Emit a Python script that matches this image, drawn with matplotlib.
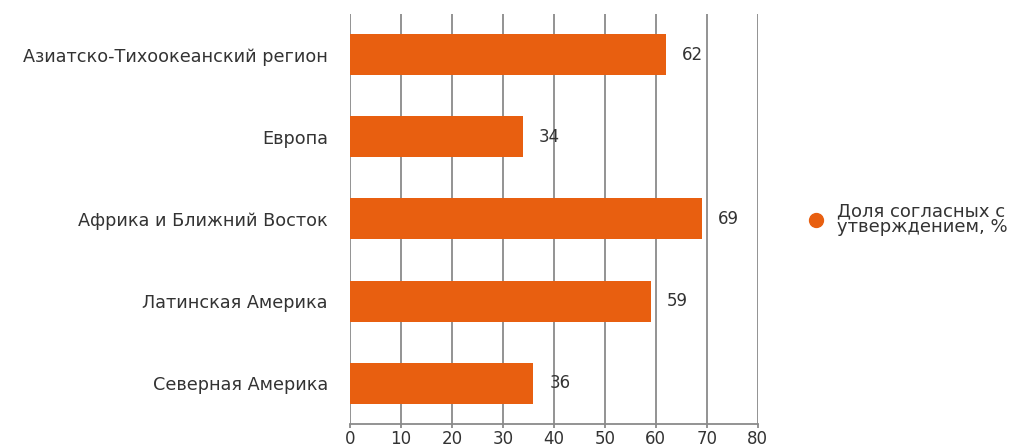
import matplotlib
matplotlib.use("Agg")
import matplotlib.pyplot as plt
from matplotlib.lines import Line2D

categories = ["Азиатско-Тихоокеанский регион", "Европа", "Африка и Ближний Восток",
              "Латинская Америка", "Северная Америка"]
values = [62, 34, 69, 59, 36]
xticks = [0, 10, 20, 30, 40, 50, 60, 70, 80]
legend_label = "Доля согласных с\nутверждением, %"

orange = "#E85F10"
grid_c = "#8a8a8a"
text_c = "#333333"

plt.rcParams['font.family'] = ['DejaVu Sans']

fig = plt.figure(figsize=(10.13, 4.48), dpi=100)
ax = fig.add_axes([350/1013, 24/448, 407.7/1013, 410/448])

ypos = list(range(len(categories)))
ax.barh(ypos, values, height=0.5, color=orange, zorder=3)
ax.set_ylim(len(categories) - 0.5, -0.5)
ax.set_xlim(0, 80)
ax.set_xticks(xticks)
ax.set_xticklabels([str(t) for t in xticks], fontsize=12, color=text_c)
ax.set_yticks(ypos)
ax.set_yticklabels(categories, fontsize=12.7, color=text_c)
ax.tick_params(axis='y', length=0, pad=16)
ax.tick_params(axis='x', length=3, width=1.3, color=grid_c, pad=1)
ax.grid(axis='x', color=grid_c, linewidth=1.3, zorder=0)
for s in ['top', 'right', 'left']:
    ax.spines[s].set_visible(False)
ax.spines['bottom'].set_color(grid_c)
ax.spines['bottom'].set_linewidth(1.3)

for y, v in zip(ypos, values):
    ax.text(v + 3.1, y, str(v), va='center', ha='left', fontsize=12, color=text_c, zorder=4)

handle = Line2D([], [], marker='o', linestyle='', color=orange, markersize=10)
fig.legend([handle], [legend_label], loc='center left', bbox_to_anchor=(786/1013, 229/448),
           frameon=False, handletextpad=0.4, labelcolor=text_c,
           prop={'size': 13}, handlelength=1.5)
for t in fig.legends[0].get_texts():
    t.set_linespacing(0.85)

fig.savefig("out.png", dpi=100)
